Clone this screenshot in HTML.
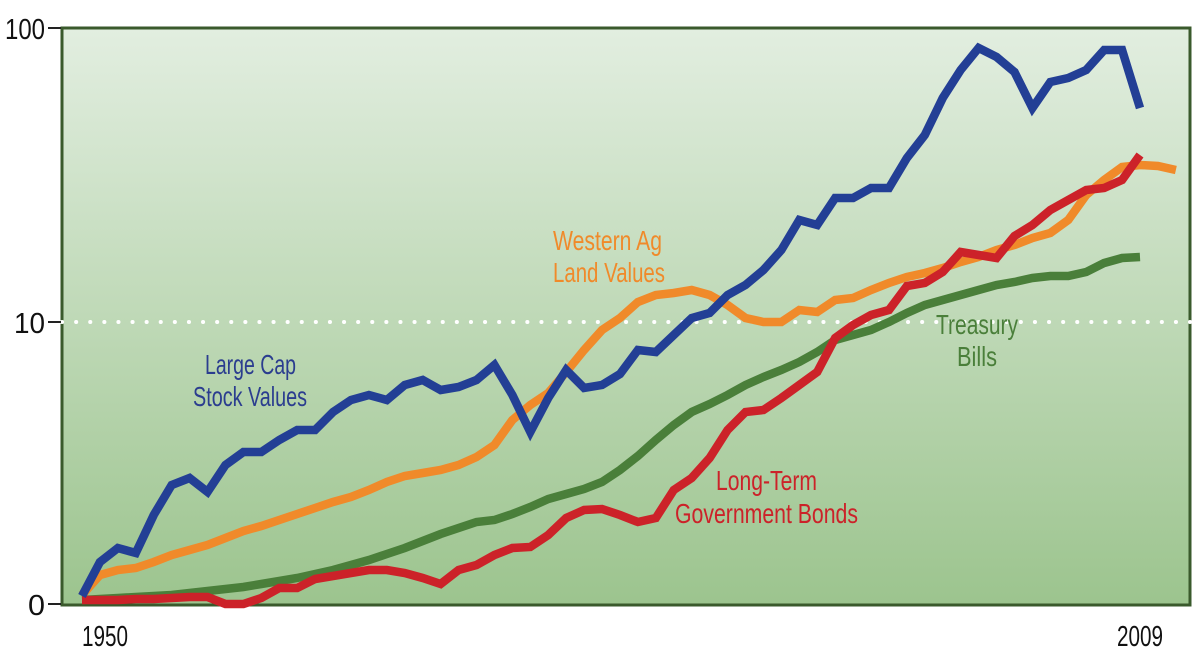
<!DOCTYPE html>
<html><head><meta charset="utf-8"><style>
html,body{margin:0;padding:0;background:#fff;}
body{width:1199px;height:654px;overflow:hidden;}
text{font-family:"Liberation Sans",sans-serif;}
</style></head><body>
<svg id="chart" width="1199" height="654" viewBox="0 0 1199 654">
<defs><linearGradient id="bg" x1="0" y1="0" x2="0" y2="1"><stop offset="0" stop-color="#e2eee0"/><stop offset="1" stop-color="#9cc48e"/></linearGradient></defs>
<rect x="62" y="28" width="1128" height="577" fill="url(#bg)" stroke="#3a5a2c" stroke-width="3"/>
<line x1="62" y1="322" x2="1190" y2="322" stroke="#fff" stroke-width="4" stroke-dasharray="0.1 14" stroke-linecap="round"/>
<g id="series"></g>
<g id="axis"></g>
<text x="205" y="374" fill="#2b3d8f" font-size="28" textLength="91" lengthAdjust="spacingAndGlyphs">Large Cap</text>
<text x="193" y="406" fill="#2b3d8f" font-size="28" textLength="114" lengthAdjust="spacingAndGlyphs">Stock Values</text>
<text x="553" y="250" fill="#f08a2a" font-size="28" textLength="109" lengthAdjust="spacingAndGlyphs">Western Ag</text>
<text x="553" y="282" fill="#f08a2a" font-size="28" textLength="112" lengthAdjust="spacingAndGlyphs">Land Values</text>
<text x="936" y="334" fill="#4a7f3a" font-size="28" textLength="82" lengthAdjust="spacingAndGlyphs">Treasury</text>
<text x="957" y="366" fill="#4a7f3a" font-size="28" textLength="40" lengthAdjust="spacingAndGlyphs">Bills</text>
<text x="716" y="490" fill="#cc2229" font-size="28" textLength="101" lengthAdjust="spacingAndGlyphs">Long-Term</text>
<text x="675" y="523" fill="#cc2229" font-size="28" textLength="183" lengthAdjust="spacingAndGlyphs">Government Bonds</text>
</svg>
<script>
const startYear = 1950;
const yearTicks = [1950, 2009];
const valueTicks = [0, 282, 576];
const valueTickLabels = ["0", "10", "100"];
const stocks = [8,42,56,51,89,119,126,112,139,152,152,164,174,174,192,204,209,204,219,224,214,217,224,239,209,172,206,234,216,219,230,254,252,269,286,291,309,319,334,354,384,379,406,406,416,416,446,469,506,534,556,547,532,496,522,526,534,554,554,496];
const land = [9,29,34,36,42,49,54,59,66,73,78,84,90,96,102,107,114,122,128,131,134,139,147,159,184,199,211,232,254,274,286,302,309,311,314,309,299,286,282,282,294,292,304,306,314,321,327,331,336,342,347,354,359,366,371,384,409,424,437,439,438,434];
const bills = [4,5,6,7,8,9,11,13,15,17,20,23,26,30,34,39,44,50,56,63,70,76,82,84,90,97,105,110,115,122,134,148,164,179,192,200,209,219,227,234,242,252,264,269,274,282,291,299,304,309,314,319,322,326,328,328,332,341,346,347];
const bonds = [4,4,4,5,5,6,7,7,0,0,6,16,16,25,28,31,34,34,31,26,20,34,39,49,56,57,69,86,94,95,89,82,86,114,126,146,174,192,194,206,219,232,266,279,289,294,318,321,332,352,349,346,368,379,394,404,414,416,424,449];

const NS = "http://www.w3.org/2000/svg";
function xScale(year){ return 82 + (year - 1950) * (1140 - 82) / 59; }
function yScale(v){ return 604 - v; }
const seriesG = document.getElementById('series');
function draw(data, color, name){
  const p = document.createElementNS(NS, 'polyline');
  p.setAttribute('points', data.map((v,i)=>xScale(startYear+i)+','+yScale(v)).join(' '));
  p.setAttribute('fill','none');
  p.setAttribute('stroke',color);
  p.setAttribute('stroke-width','8.5');
  p.setAttribute('stroke-linejoin','miter');
  
  
  seriesG.appendChild(p);
}
draw(bills, '#4a7f3a', 'treasury-bills-line');
draw(land, '#f08a2a', 'western-ag-land-line');
draw(bonds, '#cc2229', 'government-bonds-line');
draw(stocks, '#233f95', 'large-cap-stock-line');

const axisG = document.getElementById('axis');
const labelW = {"0":17,"10":31,"100":40};
valueTicks.forEach((v,i)=>{
  const y = yScale(v);
  const l = document.createElementNS(NS,'line');
  l.setAttribute('x1',48); l.setAttribute('x2',61); l.setAttribute('y1',y); l.setAttribute('y2',y);
  l.setAttribute('stroke','#222'); l.setAttribute('stroke-width','2');
  
  
  axisG.appendChild(l);
  const t = document.createElementNS(NS,'text');
  const w = labelW[valueTickLabels[i]];
  t.setAttribute('x',45 - w); t.setAttribute('y',y+11);
  t.setAttribute('font-size','29'); t.setAttribute('fill','#111');
  t.setAttribute('textLength', w); t.setAttribute('lengthAdjust','spacingAndGlyphs');
  t.textContent = valueTickLabels[i];
  
  
  axisG.appendChild(t);
});
yearTicks.forEach((yr,i)=>{
  const t = document.createElementNS(NS,'text');
  t.setAttribute('x', i===0 ? 82 : 1117); t.setAttribute('y',646);
  t.setAttribute('font-size','29'); t.setAttribute('fill','#111');
  t.setAttribute('textLength', 46); t.setAttribute('lengthAdjust','spacingAndGlyphs');
  t.textContent = yr;
  
  
  axisG.appendChild(t);
});
</script>
</body></html>
